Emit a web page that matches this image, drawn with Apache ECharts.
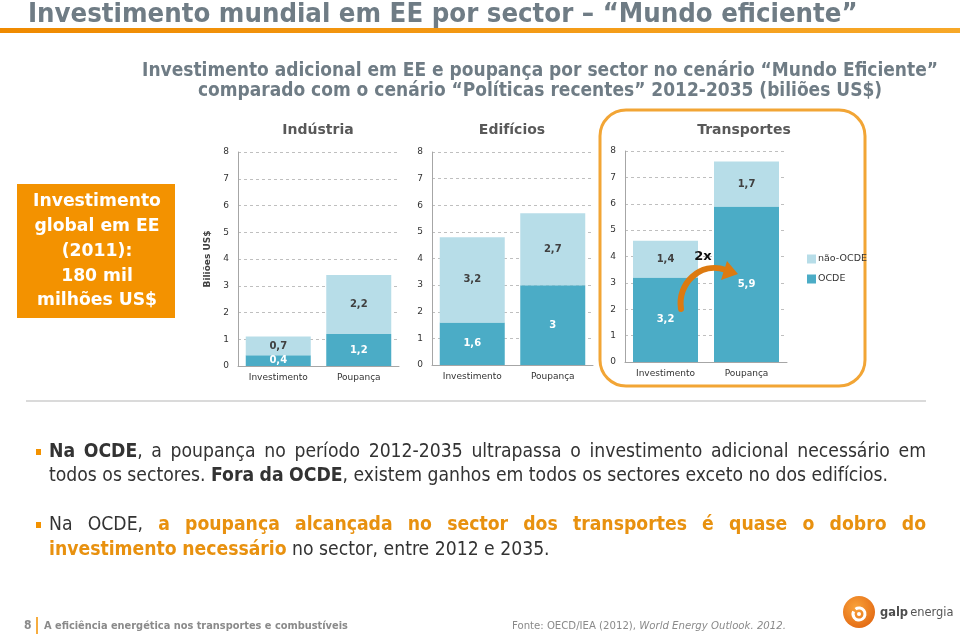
<!DOCTYPE html>
<html><head><meta charset="utf-8">
<script src="https://cdn.jsdelivr.net/npm/echarts@6/dist/echarts.min.js"></script>
<style>html,body{margin:0;padding:0;background:#fff}#c{width:960px;height:634px}</style>
</head><body><div id="c"></div>
<script>
// ---------------- data ----------------
const categories = ['Investimento', 'Poupança'];
const sectors = ['Indústria', 'Edifícios', 'Transportes'];
const seriesNames = ['OCDE', 'não-OCDE'];
const ocdeIndustria = [0.4, 1.2];
const naoOcdeIndustria = [0.7, 2.2];
const ocdeEdificios = [1.6, 3];
const naoOcdeEdificios = [3.2, 2.7];
const ocdeTransportes = [3.2, 5.9];
const naoOcdeTransportes = [1.4, 1.7];
const yMin = 0, yMax = 8, yInterval = 1;

const titleText = 'Investimento mundial em EE por sector – “Mundo eficiente”';
const subtitleLines = ['Investimento adicional em EE e poupança por sector no cenário “Mundo Eficiente”',
  'comparado com o cenário “Políticas recentes” 2012-2035 (biliões US$)'];
const boxLines = ['Investimento', 'global em EE', '(2011):', '180 mil', 'milhões US$'];
const yAxisName = 'Biliões US$';
const multiplierText = '2x';

// ---------------- layout / style ----------------
const DARK = '#4BACC6', LIGHT = '#B7DDE8', ORANGE = '#F39200', TXTORANGE = '#E8910F', GREYTITLE = '#6F7C85';
const FONT = 'DejaVu Sans';
const COND = "'DejaVu Sans Condensed', 'DejaVu Sans'";
const gridBoxes = [
  {left: 238, top: 152, width: 161, height: 214},
  {left: 432, top: 152, width: 161, height: 213},
  {left: 625, top: 151, width: 162, height: 211}
];
const titlePos = [[313, 128], [507, 128], [739, 128]];
const ocdeData = [ocdeIndustria, ocdeEdificios, ocdeTransportes];
const naoData = [naoOcdeIndustria, naoOcdeEdificios, naoOcdeTransportes];

const mctx = document.createElement('canvas').getContext('2d');
function tw(text, size, family, weight, style) {
  mctx.font = `${style || 'normal'} ${weight || 'normal'} ${size}px ${family}`;
  return mctx.measureText(text).width;
}
function fitSize(text, target, family, weight, style) {
  return 100 * target / tw(text, 100, family, weight, style);
}
function txt(x, y, text, o) {
  return {
    type: 'text', x: x, y: y, silent: true,
    style: {
      text: text, fill: o.fill || '#333', fontSize: o.size, fontFamily: o.family || FONT,
      fontWeight: o.weight || 'normal', fontStyle: o.style || 'normal',
      align: o.align || 'left', verticalAlign: 'middle'
    }
  };
}

const graphics = [];
// top orange bar
graphics.push({type: 'rect', shape: {x: 0, y: 28, width: 960, height: 5}, silent: true,
  style: {fill: new echarts.graphic.LinearGradient(0, 0, 1, 0, [{offset: 0, color: '#EF8A00'}, {offset: 1, color: '#F7A828'}])}});
// title
const tSize = fitSize(titleText, 830, COND, 'bold');
graphics.push(txt(28, 15, titleText, {size: tSize, family: COND, weight: 'bold', fill: GREYTITLE}));
// subtitle
const sSize = fitSize(subtitleLines[0], 796, COND, 'bold');
subtitleLines.forEach((l, i) => graphics.push(txt(540, 71 + i * 20, l, {size: sSize, family: COND, weight: 'bold', fill: GREYTITLE, align: 'center'})));
// orange box
graphics.push({type: 'rect', shape: {x: 17, y: 184, width: 158, height: 134}, style: {fill: ORANGE}, silent: true});
const bSize = fitSize(boxLines[0], 128, FONT, 'bold');
const boxY = [202, 227, 252, 277, 301];
boxLines.forEach((l, i) => graphics.push(txt(97, boxY[i], l, {size: bSize, weight: 'bold', fill: '#fff', align: 'center'})));
// rounded frame around Transportes
graphics.push({type: 'rect', shape: {x: 600, y: 110, width: 265, height: 276, r: 26}, silent: true,
  style: {fill: null, stroke: '#F2A535', lineWidth: 3}});
// separator
graphics.push({type: 'line', shape: {x1: 26, y1: 401, x2: 926, y2: 401}, silent: true, style: {stroke: '#DADADA', lineWidth: 2}});

// bullets
const bodyColor = '#333333';
const bulletLines = [
  {y: 452, justify: true, segs: [{t: 'Na OCDE', b: 1}, {t: ', a poupança no período 2012-2035 ultrapassa o investimento adicional necessário em'}]},
  {y: 476, justify: false, segs: [{t: 'todos os sectores. '}, {t: 'Fora da OCDE', b: 1}, {t: ', existem ganhos em todos os sectores exceto no dos edifícios.'}]},
  {y: 525, justify: true, segs: [{t: 'Na OCDE, '}, {t: 'a poupança alcançada no sector dos transportes é quase o dobro do', b: 1, c: TXTORANGE}]},
  {y: 550, justify: false, segs: [{t: 'investimento necessário', b: 1, c: TXTORANGE}, {t: ' no sector, entre 2012 e 2035.'}]}
];
function segW(segs, size) { return segs.reduce((a, s) => a + tw(s.t, size, COND, s.b ? 'bold' : 'normal'), 0); }
const bodySize = 100 * 841 / segW(bulletLines[1].segs, 100);
const X0 = 49, X1 = 926;
bulletLines.forEach(line => {
  const words = [[]];
  line.segs.forEach(s => {
    s.t.split(' ').forEach((p, i) => {
      if (i > 0) words.push([]);
      if (p) words[words.length - 1].push(s.b ? {t: p, b: 1, c: s.c} : {t: p, c: s.c});
    });
  });
  const ws = words.filter(w => w.length);
  const widths = ws.map(w => w.reduce((a, r) => a + tw(r.t, bodySize, COND, r.b ? 'bold' : 'normal'), 0));
  const total = widths.reduce((a, b) => a + b, 0);
  const gap = line.justify ? (X1 - X0 - total) / (ws.length - 1) : tw(' ', bodySize, COND);
  let x = X0;
  ws.forEach((w, i) => {
    let xx = x;
    w.forEach(r => {
      graphics.push(txt(xx, line.y, r.t, {size: bodySize, family: COND, weight: r.b ? 'bold' : 'normal', fill: r.c || bodyColor}));
      xx += tw(r.t, bodySize, COND, r.b ? 'bold' : 'normal');
    });
    x += widths[i] + gap;
  });
});
[452, 525].forEach(y => graphics.push({type: 'rect', shape: {x: 36, y: y - 3, width: 5, height: 6}, style: {fill: ORANGE}, silent: true}));

// footer
graphics.push(txt(24, 626, '8', {size: 12, family: COND, fill: '#8A8A8A', weight: 'bold'}));
graphics.push({type: 'line', shape: {x1: 37, y1: 617, x2: 37, y2: 634}, style: {stroke: ORANGE, lineWidth: 1.5}, silent: true});
const footA = 'A eficiência energética nos transportes e combustíveis';
graphics.push(txt(44, 626, footA, {size: fitSize(footA, 304, COND, 'bold'), family: COND, weight: 'bold', fill: '#8A8A8A'}));
const fonteA = 'Fonte: OECD/IEA (2012), ', fonteB = 'World Energy Outlook. 2012.';
const fSize = 100 * 274 / (tw(fonteA, 100, COND) + tw(fonteB, 100, COND, 'normal', 'italic'));
graphics.push(txt(512, 626, fonteA, {size: fSize, family: COND, fill: '#8A8A8A'}));
graphics.push(txt(512 + tw(fonteA, fSize, COND), 626, fonteB, {size: fSize, family: COND, style: 'italic', fill: '#8A8A8A'}));
// logo
graphics.push({type: 'circle', shape: {cx: 859, cy: 612, r: 16}, silent: true,
  style: {fill: new echarts.graphic.RadialGradient(0.4, 0.35, 0.8, [{offset: 0, color: '#F9A23A'}, {offset: 1, color: '#E0620E'}])}});
graphics.push({type: 'arc', shape: {cx: 859, cy: 614, r: 6, startAngle: -2.2, endAngle: 3.6}, silent: true,
  style: {stroke: '#fff', lineWidth: 3, fill: null}});
graphics.push({type: 'circle', shape: {cx: 859, cy: 614, r: 2}, style: {fill: '#fff'}, silent: true});
const galpW = tw('galp', 100, COND, 'bold') + tw(' energia', 100, COND);
const gSize = 100 * 75 / galpW;
graphics.push(txt(880, 613, 'galp', {size: gSize, family: COND, weight: 'bold', fill: '#4D4D4D'}));
graphics.push(txt(880 + tw('galp', gSize, COND, 'bold') + tw(' ', gSize, COND) * 0.6, 613, 'energia', {size: gSize, family: COND, fill: '#555'}));

// arrow (drawn on top of bars)
graphics.push({type: 'bezierCurve', silent: true, z: 100,
  shape: {x1: 681, y1: 309, cpx1: 677, cpy1: 284, cpx2: 700, cpy2: 261, x2: 726, y2: 270},
  style: {fill: null, stroke: '#DD7A10', lineWidth: 6, lineCap: 'round'}});
graphics.push({type: 'polygon', silent: true, z: 100, shape: {points: [[738, 274], [727, 261], [721, 280]]}, style: {fill: '#DD7A10'}});
graphics.push(Object.assign(txt(703, 257, multiplierText, {size: 13, weight: 'bold', fill: '#111', align: 'center'}), {z: 100}));

// ---------------- chart option ----------------
const fmt = p => String(p.value).replace('.', ',');
const grid = gridBoxes.map(g => Object.assign({containLabel: false}, g));
const xAxis = gridBoxes.map((g, i) => ({
  type: 'category', gridIndex: i, data: categories,
  axisLine: {lineStyle: {color: '#A6A6A6'}}, axisTick: {show: false},
  axisLabel: {color: '#333', fontFamily: FONT, fontSize: 9, margin: 7}
}));
const yAxis = gridBoxes.map((g, i) => ({
  type: 'value', gridIndex: i, min: yMin, max: yMax, interval: yInterval,
  name: i === 0 ? yAxisName : '', nameLocation: 'middle', nameRotate: 90, nameGap: 26,
  nameTextStyle: {fontFamily: FONT, fontSize: 9, fontWeight: 'bold', color: '#404040'},
  axisLine: {show: true, lineStyle: {color: '#A6A6A6'}}, axisTick: {show: false},
  axisLabel: {color: '#333', fontFamily: FONT, fontSize: 9, margin: 9},
  splitLine: {lineStyle: {color: '#BFBFBF', type: [3, 3]}}
}));
const series = [];
gridBoxes.forEach((g, i) => {
  series.push({
    name: seriesNames[0], type: 'bar', xAxisIndex: i, yAxisIndex: i, stack: 's' + i, data: ocdeData[i],
    barWidth: 65, itemStyle: {color: DARK},
    label: {show: true, position: 'inside', formatter: fmt, color: '#fff', fontFamily: FONT, fontSize: 10, fontWeight: 'bold'}
  });
  series.push({
    name: seriesNames[1], type: 'bar', xAxisIndex: i, yAxisIndex: i, stack: 's' + i, data: naoData[i],
    barWidth: 65, itemStyle: {color: LIGHT},
    label: {show: true, position: 'inside', formatter: fmt, color: '#404040', fontFamily: FONT, fontSize: 10, fontWeight: 'bold'}
  });
});
const title = sectors.map((s, i) => ({
  text: s, left: titlePos[i][0], top: titlePos[i][1] - 10, textAlign: 'center',
  textStyle: {fontFamily: FONT, fontSize: 14, fontWeight: 'bold', color: '#595959'}
}));

const chart = echarts.init(document.getElementById('c'), null, {renderer: 'canvas'});
chart.setOption({
  animation: false,
  backgroundColor: '#fff',
  title: title,
  legend: {
    data: [seriesNames[1], seriesNames[0]], orient: 'vertical', left: 802, top: 249,
    itemWidth: 9, itemHeight: 9, itemGap: 10, icon: 'rect', selectedMode: false,
    textStyle: {fontFamily: FONT, fontSize: 9.5, color: '#333', padding: [0, 0, 0, -3]}
  },
  grid: grid, xAxis: xAxis, yAxis: yAxis, series: series,
  graphic: graphics
});
</script></body></html>
